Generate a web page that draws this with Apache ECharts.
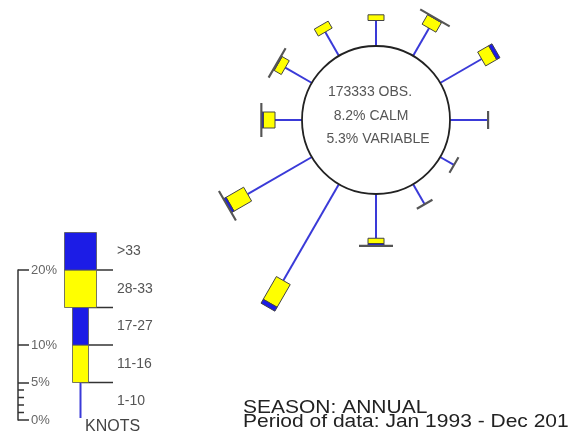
<!DOCTYPE html>
<html><head><meta charset="utf-8">
<style>html,body{margin:0;padding:0;background:#fff}#c{width:569px;height:437px}</style>
<script src="https://cdn.jsdelivr.net/npm/echarts@6/dist/echarts.min.js"></script>
</head><body><div id="c"></div>
<script>
// ---- data ----
const directions = [0, 30, 60, 90, 120, 150, 180, 210, 240, 270, 300, 330];
const speedBins = ['1-10', '11-16', '17-27', '28-33', '>33'];
const pct_1_10  = [3.4, 4.27, 6.4, 5.07, 2.13, 3.1, 5.9, 14.85, 9.9, 3.6, 4.1, 3.67];
const pct_11_16 = [0.76, 1.47, 1.7, 0.02, 0.02, 0.02, 0.7, 3.5, 2.7, 1.56, 1.1, 1.07];
const pct_17_27 = [0, 0.1, 0.5, 0, 0, 0, 0.3, 0.6, 0.4, 0.25, 0.15, 0];
const pct_28_33 = [0, 0.02, 0, 0, 0, 0, 0.02, 0, 0.02, 0.02, 0.02, 0];
const pct_gt33  = [0, 0, 0, 0, 0, 0, 0, 0, 0, 0, 0, 0];
const legendStep = 5;
const scaleLabels = [0, 5, 10, 20];
const minorTicks = [1, 2, 3, 4];
const obsLines = ['173333 OBS.', '8.2% CALM', '5.3% VARIABLE'];
const seasonText = 'SEASON: ANNUAL';
const periodText = 'Period of data: Jan 1993 - Dec 2012';
const unitText = 'KNOTS';

// ---- style ----
const FONT = 'Liberation Sans, Arial, Helvetica, sans-serif';
const BLUE = '#1c1ce6', YELLOW = '#ffff00', SPOKE = '#3a3ad8';
const binFill = [SPOKE, YELLOW, BLUE, YELLOW, BLUE];
const binWidth = [2, 16, 16, 32, 32];

const bins = [pct_1_10, pct_11_16, pct_17_27, pct_28_33, pct_gt33];

function boxPoly(a, b, nx, ny, h) {
  return [[a[0] + nx * h, a[1] + ny * h], [b[0] + nx * h, b[1] + ny * h],
          [b[0] - nx * h, b[1] - ny * h], [a[0] - nx * h, a[1] - ny * h]];
}

function renderSpoke(params, api) {
  const i = params.dataIndex;
  const ang = directions[i];
  const p0 = api.coord([0, ang]), p1 = api.coord([1, ang]);
  let ux = p1[0] - p0[0], uy = p1[1] - p0[1];
  const L = Math.hypot(ux, uy); ux /= L; uy /= L;
  const nx = -uy, ny = ux;
  const children = [];
  let cum = 0;
  bins.forEach((arr, k) => {
    const v = arr[i];
    if (v <= 0) return;
    const a = api.coord([cum, ang]), b = api.coord([cum + v, ang]);
    if (k === 0) {
      children.push({type: 'line', shape: {x1: a[0], y1: a[1], x2: b[0], y2: b[1]},
        style: {stroke: SPOKE, lineWidth: 2}});
    } else {
      const tiny = v < 0.1;
      children.push({type: 'polygon', shape: {points: boxPoly(a, b, nx, ny, binWidth[k] / 2)},
        style: {fill: binFill[k], stroke: tiny ? '#555' : '#444', lineWidth: tiny ? 2 : 1}});
    }
    cum += v;
  });
  return {type: 'group', children};
}

function renderCalm(params, api) {
  const a = api.coord([0, 0]), b = api.coord([0, 180]);
  const cx = (a[0] + b[0]) / 2, cy = (a[1] + b[1]) / 2;
  const r = Math.hypot(a[0] - b[0], a[1] - b[1]) / 2;
  return {type: 'circle', shape: {cx, cy, r}, style: {fill: '#fff', stroke: '#222', lineWidth: 1.8}};
}

const LX = 62.5; // legend bar centre on the hidden x scale
function renderLegend(params, api) {
  const k = params.dataIndex;
  const y0 = k * legendStep, y1 = (k + 1) * legendStep;
  const children = [];
  if (k < speedBins.length - 1) {
    const p = api.coord([LX, y1]);
    const q = api.coord([95, y1]);
    const h = Math.min(binWidth[k], binWidth[k + 1]) / 2;
    children.push({type: 'line', shape: {x1: p[0] + h, y1: p[1], x2: q[0], y2: q[1]},
      style: {stroke: '#333', lineWidth: 1.5}});
  }
  const a = api.coord([LX, y0]), b = api.coord([LX, y1]);
  if (k === 0) {
    children.push({type: 'line', shape: {x1: a[0], y1: a[1] - 2, x2: b[0], y2: b[1]},
      style: {stroke: SPOKE, lineWidth: 2}});
  } else {
    const h = binWidth[k] / 2;
    children.push({type: 'rect', shape: {x: a[0] - h, y: b[1], width: 2 * h, height: a[1] - b[1]},
      style: {fill: binFill[k], stroke: '#555', lineWidth: 0.8}});
  }
  const t = api.coord([99, (y0 + y1) / 2]);
  children.push({type: 'text', x: t[0], y: t[1],
    style: {text: speedBins[k], fill: '#555', fontSize: 14, fontFamily: FONT,
      textAlign: 'left', textVerticalAlign: 'middle'}});
  if (k === 0) {
    const u = api.coord([67, 0]);
    children.push({type: 'text', x: u[0], y: u[1] + 7,
      style: {text: unitText, fill: '#444', fontSize: 16, fontFamily: FONT,
        textAlign: 'left', textVerticalAlign: 'middle'}});
    minorTicks.forEach(m => {
      const s = api.coord([0, m]);
      children.push({type: 'line', shape: {x1: s[0], y1: s[1], x2: s[0] + 6, y2: s[1]},
        style: {stroke: '#333', lineWidth: 1.5}});
    });
  }
  return {type: 'group', children};
}

const chart = echarts.init(document.getElementById('c'), null, {renderer: 'canvas'});
chart.setOption({
  animation: false,
  backgroundColor: '#fff',
  polar: {center: [376, 120], radius: [74, 224]},
  radiusAxis: {type: 'value', min: 0, max: 20, show: false},
  angleAxis: {type: 'value', min: 0, max: 360, startAngle: 90, clockwise: true, show: false},
  grid: {left: 18, top: 270, width: 100, height: 150},
  xAxis: {type: 'value', min: 0, max: 100, show: false},
  yAxis: {type: 'value', min: 0, max: 20, position: 'left',
    axisLine: {show: true, lineStyle: {color: '#333', width: 1.5}},
    axisTick: {show: true, inside: true, length: 11, customValues: scaleLabels,
      lineStyle: {color: '#333', width: 1.5}},
    axisLabel: {show: true, inside: true, margin: 13, customValues: scaleLabels,
      formatter: '{value}%', color: '#666', fontSize: 13, fontFamily: FONT},
    splitLine: {show: false}},
  graphic: [
    ...obsLines.map((t, j) => ({type: 'text', z: 100, x: [370, 371, 378][j], y: [92, 116.5, 139.5][j],
      style: {text: t, fill: '#555', fontSize: 14, fontFamily: FONT,
        textAlign: 'center', textVerticalAlign: 'middle'}})),
    {type: 'text', z: 100, x: 243, y: 408, scaleY: 0.85,
      style: {text: seasonText, fill: '#222', fontSize: 21, fontFamily: FONT,
        textAlign: 'left', textVerticalAlign: 'middle'}},
    {type: 'text', z: 100, x: 243, y: 422.5, scaleY: 0.85,
      style: {text: periodText, fill: '#222', fontSize: 21, fontFamily: FONT,
        textAlign: 'left', textVerticalAlign: 'middle'}}
  ],
  series: [
    {type: 'custom', coordinateSystem: 'polar', renderItem: renderSpoke, z: 2,
      encode: {radius: 0, angle: 1},
      data: directions.map((d, i) => [bins.reduce((s, arr) => s + arr[i], 0), d])},
    {type: 'custom', coordinateSystem: 'polar', renderItem: renderCalm, z: 3,
      encode: {radius: 0, angle: 1}, data: [[0, 0]]},
    {type: 'custom', coordinateSystem: 'cartesian2d', renderItem: renderLegend, z: 2,
      clip: false, data: speedBins.map((b, k) => [LX, k * legendStep])}
  ]
});
</script>
</body></html>
